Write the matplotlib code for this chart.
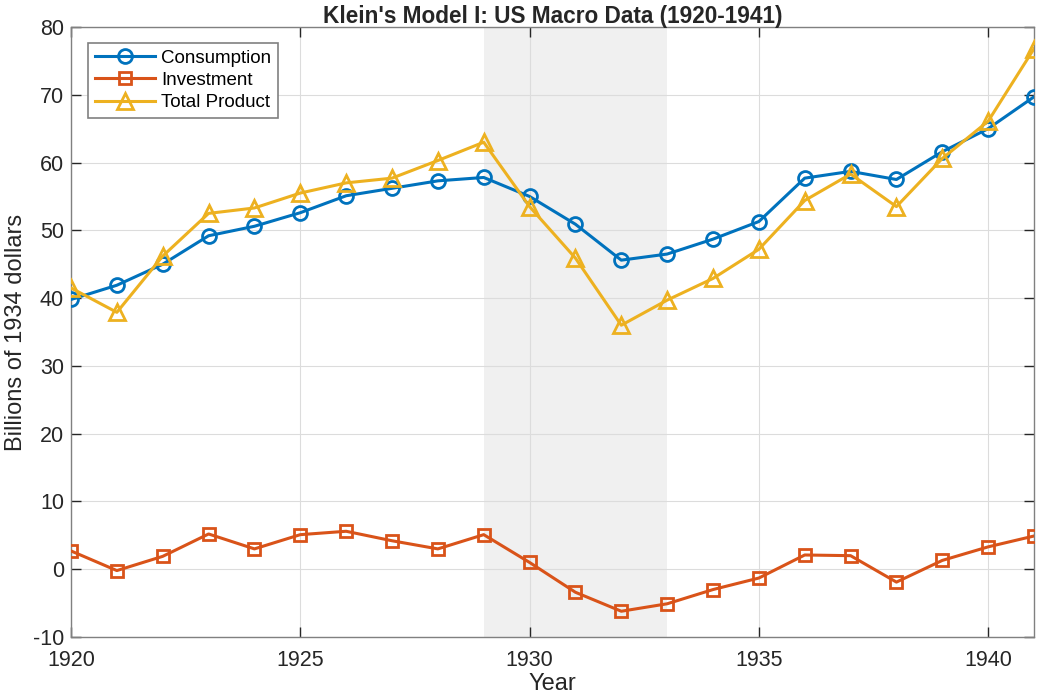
import matplotlib
matplotlib.use("Agg")
import matplotlib.pyplot as plt

years = list(range(1920, 1942))
consumption = [39.8, 41.9, 45.0, 49.2, 50.6, 52.6, 55.1, 56.2, 57.3, 57.8, 55.0,
               50.9, 45.6, 46.5, 48.7, 51.3, 57.7, 58.7, 57.5, 61.6, 65.0, 69.7]
investment = [2.7, -0.2, 1.9, 5.2, 3.0, 5.1, 5.6, 4.2, 3.0, 5.1, 1.0,
              -3.4, -6.2, -5.1, -3.0, -1.3, 2.1, 2.0, -1.9, 1.3, 3.3, 4.9]
total_product = [41.5, 37.9, 46.2, 52.5, 53.3, 55.5, 57.0, 57.7, 60.3, 63.0, 53.5,
                 45.9, 36.0, 39.7, 42.9, 47.2, 54.4, 58.3, 53.5, 60.6, 66.1, 76.8]
shade_span = (1929, 1933)
xticks = [1920, 1925, 1930, 1935, 1940]
yticks = list(range(-10, 81, 10))

plt.rcParams['font.family'] = ['Liberation Sans', 'DejaVu Sans']
plt.rcParams['axes.unicode_minus'] = False

fig = plt.figure(figsize=(10.47, 6.94), dpi=100)
ax = fig.add_axes([71/1047, 1-637/694, (1034-71)/1047, (637-27)/694])

ax.axvspan(shade_span[0], shade_span[1], color='#f0f0f0', zorder=0, lw=0)

lw = 2.2
ax.plot(years, consumption, '-o', color='#0072BD', lw=lw, ms=10, mfc='none', mew=2.0, label='Consumption', zorder=3)
ax.plot(years, investment, '-s', color='#D95319', lw=lw, ms=8, mfc='none', mew=2.0, label='Investment', zorder=3)
ax.plot(years, total_product, '-^', color='#EDB120', lw=lw, ms=11, mfc='none', mew=2.0, label='Total Product', zorder=3)

ax.set_xlim(1920, 1941)
ax.set_ylim(-10, 80)
ax.set_xticks(xticks)
ax.set_yticks(yticks)
ax.grid(True, color='#dcdcdc', lw=0.8)
ax.set_axisbelow(True)
for s in ax.spines.values():
    s.set_color('#808080')
    s.set_linewidth(1.0)
ax.tick_params(direction='in', length=7, width=1, color='#262626', labelsize=15.5, labelcolor='#262626',
               top=True, right=True)
ax.tick_params(axis='x', pad=9)
ax.tick_params(axis='y', pad=5)

ax.set_xlabel('Year', fontsize=17, color='#262626', labelpad=2)
ax.set_ylabel('Billions of 1934 dollars', fontsize=17, color='#262626', labelpad=4)
ax.set_title("Klein's Model I: US Macro Data (1920-1941)", fontsize=16.3, fontweight='bold', color='#262626', pad=3)

leg = ax.legend(loc='upper left', bbox_to_anchor=(17/963, 1-16/610), fontsize=13.5, frameon=True, fancybox=False,
                edgecolor='#808080', framealpha=1, borderpad=0.35, labelspacing=0.27, handlelength=3.2,
                handletextpad=0.35, borderaxespad=0)
leg.get_frame().set_linewidth(1.2)

fig.savefig('out.png', dpi=100)
